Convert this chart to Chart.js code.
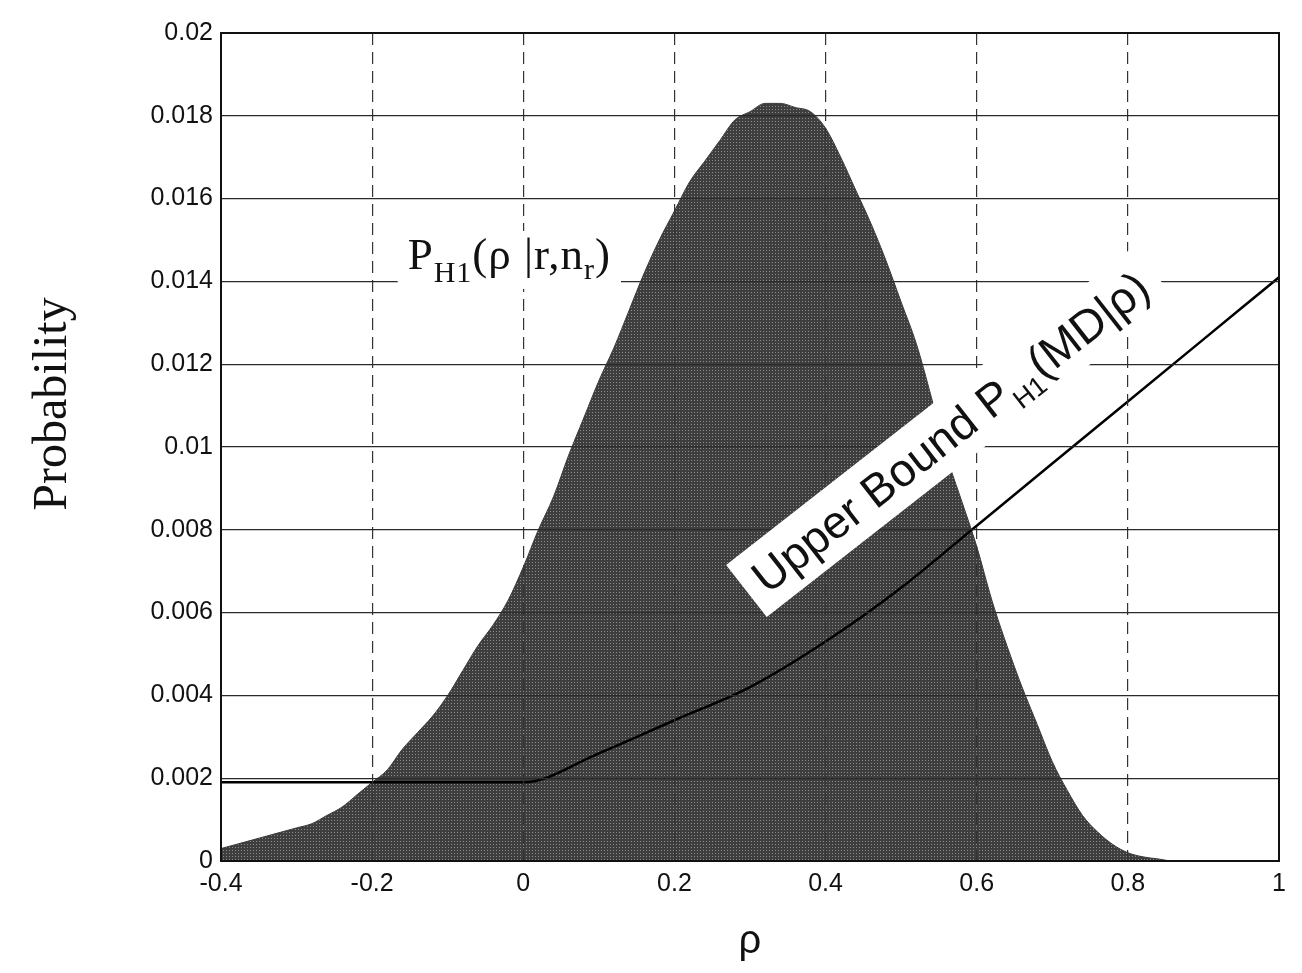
<!DOCTYPE html>
<html lang="en">
  <head>
    <meta charset="UTF-8" />
    <title>P_H1 posterior and upper bound</title>
    <style>
      html, body { margin: 0; padding: 0; background: #fff; }
      .chart-box { position: relative; width: 1302px; height: 973px; }
    </style>
  </head>
  <body>
    <div class="chart-box"><canvas id="chart-1"></canvas></div>
    <script src="https://cdn.jsdelivr.net/npm/chart.js"></script>
    <script>
      // histogram of P_H1(rho | r, n_r), one value per 0.02 bin
      const rho = [
        -0.40, -0.38, -0.36, -0.34, -0.32, -0.30, -0.28, -0.26, -0.24, -0.22,
        -0.20, -0.18, -0.16, -0.14, -0.12, -0.10, -0.08, -0.06, -0.04, -0.02,
        0.00, 0.02, 0.04, 0.06, 0.08, 0.10, 0.12, 0.14, 0.16, 0.18,
        0.20, 0.22, 0.24, 0.26, 0.28, 0.30, 0.32, 0.34, 0.36, 0.38,
        0.40, 0.42, 0.44, 0.46, 0.48, 0.50, 0.52, 0.54, 0.56, 0.58,
        0.60, 0.62, 0.64, 0.66, 0.68, 0.70, 0.72, 0.74, 0.76, 0.78,
        0.80, 0.82, 0.84, 0.86, 0.88, 0.90, 0.92, 0.94, 0.96, 0.98, 1.00
      ];
      const density = [
        0.0003, 0.0004, 0.0005, 0.0006, 0.0007, 0.0008, 0.0009, 0.0011, 0.0013, 0.0016,
        0.0019, 0.0022, 0.0027, 0.0031, 0.0035, 0.0040, 0.0046, 0.0052, 0.0057, 0.0063,
        0.0071, 0.0080, 0.0088, 0.0098, 0.0107, 0.0116, 0.0124, 0.0133, 0.0142, 0.0150,
        0.0157, 0.0164, 0.0169, 0.0174, 0.0179, 0.0181, 0.0183, 0.0183, 0.0182, 0.0181,
        0.0177, 0.0170, 0.0162, 0.0154, 0.0145, 0.0135, 0.0125, 0.0112, 0.0098, 0.0087,
        0.0076, 0.0063, 0.0052, 0.0042, 0.0033, 0.0024, 0.0017, 0.0011, 0.0007, 0.0004,
        0.0002, 0.0001, 0.00005, 0, 0, 0, 0, 0, 0, 0, 0
      ];

      // upper bound P_H1(MD | rho)
      const boundRho = [-0.4, -0.3, -0.2, -0.1, 0.0, 0.1, 0.2, 0.3, 0.4, 0.5, 0.6, 0.7, 0.8, 0.9, 1.0];
      const boundProb = [
        0.0019, 0.0019, 0.0019, 0.0019, 0.0019, 0.0026, 0.0034, 0.0042,
        0.0053, 0.0066, 0.0081, 0.0096, 0.0111, 0.0126, 0.0141
      ];

      const xTicks = [-0.4, -0.2, 0, 0.2, 0.4, 0.6, 0.8, 1];
      const yTicks = [0, 0.002, 0.004, 0.006, 0.008, 0.01, 0.012, 0.014, 0.016, 0.018, 0.02];

      const canvas = document.getElementById("chart-1");

      // halftone-ish grey fill for the histogram
      const tile = document.createElement("canvas");
      tile.width = 3;
      tile.height = 3;
      const tctx = tile.getContext("2d");
      tctx.fillStyle = "#3e3e3e";
      tctx.fillRect(0, 0, 3, 3);
      tctx.fillStyle = "#8c8c8c";
      tctx.fillRect(1, 1, 1, 1);
      const halftone = canvas.getContext("2d").createPattern(tile, "repeat");

      const tickFont = { family: "'Liberation Sans', Arial, sans-serif", size: 25 };

      // frame, y title and the two in-plot labels
      const decorations = {
        id: "decorations",
        afterDraw(chart) {
          const { ctx, chartArea: a, scales } = chart;
          const xs = scales.x, ys = scales.y;
          ctx.save();

          // box around the plot
          ctx.strokeStyle = "#111";
          ctx.lineWidth = 2;
          ctx.strokeRect(a.left, a.top, a.right - a.left, a.bottom - a.top);

          // y axis title
          ctx.save();
          ctx.translate(66, 404);
          ctx.rotate(-Math.PI / 2);
          ctx.fillStyle = "#111";
          ctx.font = "48px 'Liberation Serif', serif";
          ctx.textAlign = "center";
          ctx.textBaseline = "alphabetic";
          ctx.fillText("Probability", 0, 0);
          ctx.restore();

          // P_H1(rho |r,n_r) label
          const serif = "'Liberation Serif', serif";
          const big = "45px " + serif, small = "30px " + serif;
          let px = xs.getPixelForValue(-0.153);
          const py = ys.getPixelForValue(0.0143);
          const parts1 = [
            { t: "P", f: big, dy: 0 },
            { t: "H1", f: small, dy: 13 },
            { t: "(\u03c1 |r,n", f: big, dy: 0 },
            { t: "r", f: small, dy: 10 },
            { t: ")", f: big, dy: 0 }
          ];
          ctx.letterSpacing = "1px";
          let w1 = 0;
          parts1.forEach(p => { ctx.font = p.f; w1 += ctx.measureText(p.t).width; });
          ctx.fillStyle = "#fff";
          ctx.fillRect(px - 10, py - 38, w1 + 20, 58);
          ctx.fillStyle = "#111";
          ctx.textBaseline = "alphabetic";
          ctx.textAlign = "left";
          parts1.forEach(p => {
            ctx.font = p.f;
            ctx.fillText(p.t, px, py + p.dy);
            px += ctx.measureText(p.t).width;
          });
          ctx.letterSpacing = "0px";

          // rotated "Upper Bound P_H1(MD|rho)" label
          const sans = "'Liberation Sans', Arial, sans-serif";
          const bigS = "46px " + sans, smallS = "27px " + sans;
          const parts2 = [
            { t: "Upper Bound P", f: bigS, dy: 0 },
            { t: "H1", f: smallS, dy: 11 },
            { t: "(MD|\u03c1)", f: bigS, dy: 0 }
          ];
          let w2 = 0;
          parts2.forEach(p => { ctx.font = p.f; w2 += ctx.measureText(p.t).width; });
          ctx.save();
          ctx.translate(xs.getPixelForValue(0.565), ys.getPixelForValue(0.01037));
          ctx.rotate(-38 * Math.PI / 180);
          ctx.fillStyle = "#fff";
          ctx.fillRect(-w2 / 2 - 14, -33, w2 + 28, 66);
          ctx.fillStyle = "#111";
          let sx = -w2 / 2;
          parts2.forEach(p => {
            ctx.font = p.f;
            ctx.fillText(p.t, sx, 16 + p.dy);
            sx += ctx.measureText(p.t).width;
          });
          ctx.restore();

          ctx.restore();
        }
      };

      new Chart(canvas, {
        type: "line",
        data: {
          datasets: [
            {
              label: "Upper Bound",
              data: boundRho.map((r, i) => ({ x: r, y: boundProb[i] })),
              borderColor: "#000",
              borderWidth: 2.5,
              pointRadius: 0,
              fill: false,
              cubicInterpolationMode: "monotone"
            },
            {
              label: "P_H1",
              data: rho.map((r, i) => ({ x: r, y: density[i] })),
              borderColor: "#3a3a3a",
              borderWidth: 1,
              backgroundColor: halftone,
              pointRadius: 0,
              fill: "origin",
              cubicInterpolationMode: "monotone"
            }
          ]
        },
        options: {
          responsive: true,
          maintainAspectRatio: false,
          animation: false,
          layout: { padding: { left: 0, right: 23, top: 33, bottom: 0 } },
          plugins: { legend: { display: false }, tooltip: { enabled: false } },
          scales: {
            x: {
              type: "linear",
              min: -0.4,
              max: 1,
              afterFit: s => { s.height = 112; },
              afterBuildTicks: s => { s.ticks = xTicks.map(v => ({ value: v })); },
              grid: { color: "#333", lineWidth: 1.2, drawTicks: false, z: 1 },
              border: { display: false, dash: [12, 7] },
              ticks: {
                padding: 8,
                color: "#111",
                font: tickFont,
                maxRotation: 0,
                callback: v => String(+v.toFixed(1))
              },
              title: {
                display: true,
                text: "\u03c1",
                color: "#111",
                font: { family: "'Liberation Sans', Arial, sans-serif", size: 40 },
                padding: { top: 0, bottom: 7 }
              }
            },
            y: {
              min: 0,
              max: 0.02,
              afterFit: s => { s.width = 221; },
              afterBuildTicks: s => { s.ticks = yTicks.map(v => ({ value: v })); },
              grid: { color: "#2a2a2a", lineWidth: 1.3, drawTicks: false, z: 1 },
              border: { display: false },
              ticks: {
                padding: 8,
                color: "#111",
                font: tickFont,
                callback: v => String(+v.toFixed(3))
              }
            }
          }
        },
        plugins: [decorations]
      });
    </script>
  </body>
</html>
